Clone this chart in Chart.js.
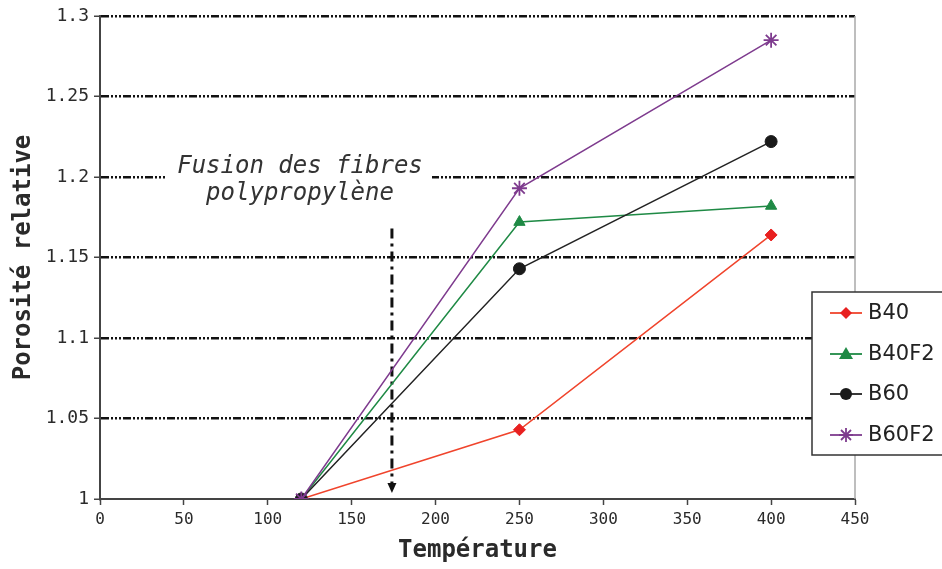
<!DOCTYPE html>
<html>
<head>
<meta charset="utf-8">
<script src="https://cdn.jsdelivr.net/npm/chart.js@4/dist/chart.umd.min.js"></script>
<style>
  html, body { margin:0; padding:0; background:#fff; }
  #wrap { width:942px; height:569px; position:relative; }
</style>
</head>
<body>
<div id="wrap"><canvas id="chart"></canvas></div>
<script>
// data
const temps = [120, 250, 400];
const b40   = [1, 1.043, 1.164];
const b40f2 = [1, 1.172, 1.182];
const b60   = [1, 1.143, 1.222];
const b60f2 = [1, 1.193, 1.285];
const yTicks = [1, 1.05, 1.1, 1.15, 1.2, 1.25, 1.3];
const xTicks = [0, 50, 100, 150, 200, 250, 300, 350, 400, 450];

const seriesNames  = ['B40', 'B40F2', 'B60', 'B60F2'];
const seriesColors = ['#f0442c', '#1f8a45', '#222222', '#7e3b8e'];
const markerColors = ['#e82020', '#1f8a45', '#1a1a1a', '#7e3b8e'];
const seriesStyles = ['rectRot', 'triangle', 'circle', 'star'];
const seriesValues = [b40, b40f2, b60, b60f2];

// annotation : "Fusion des fibres polypropylène" arrow
const annotLines = ['Fusion des fibres', 'polypropylène'];
const arrowX = 174, arrowTop = 1.168, arrowBottom = 1.0;

const datasets = seriesNames.map((name, i) => ({
  label: name,
  data: temps.map((t, k) => ({ x: t, y: seriesValues[i][k] })),
  borderColor: seriesColors[i],
  backgroundColor: markerColors[i],
  pointBorderColor: markerColors[i],
  pointStyle: seriesStyles[i],
  pointRadius: seriesStyles[i] === 'star' ? 7.5 : (seriesStyles[i] === 'triangle' ? 6.5 : 6),
  pointBorderWidth: seriesStyles[i] === 'star' ? 1.8 : 1,
  borderWidth: 1.5,
  tension: 0,
  order: 4 - i
}));

const frame = {
  id: 'frame',
  beforeDatasetsDraw(chart) {
    const { ctx, chartArea: a, scales: { x, y } } = chart;
    ctx.save();
    // right border
    ctx.strokeStyle = '#a8a8a8'; ctx.lineWidth = 1.5;
    ctx.beginPath(); ctx.moveTo(a.right, a.top); ctx.lineTo(a.right, a.bottom); ctx.stroke();
    // annotation text with white background
    ctx.fillStyle = '#fff';
    ctx.fillRect(166, 156, 266, 50);
    ctx.fillStyle = '#333';
    ctx.font = 'italic 24px "DejaVu Sans Mono"';
    ctx.textAlign = 'center'; ctx.textBaseline = 'middle';
    ctx.fillText(annotLines[0], 300, 167);
    ctx.fillText(annotLines[1], 300, 194);
    // dash-dot arrow
    const ax = x.getPixelForValue(arrowX);
    const y1 = y.getPixelForValue(arrowTop), y2 = y.getPixelForValue(arrowBottom) - 6;
    ctx.strokeStyle = '#111'; ctx.lineWidth = 3;
    ctx.setLineDash([10, 5, 3, 5]);
    ctx.beginPath(); ctx.moveTo(ax, y1); ctx.lineTo(ax, y2 - 6); ctx.stroke();
    ctx.setLineDash([]);
    ctx.fillStyle = '#111';
    ctx.beginPath(); ctx.moveTo(ax - 4.5, y2 - 10); ctx.lineTo(ax + 4.5, y2 - 10); ctx.lineTo(ax, y2); ctx.closePath(); ctx.fill();
    ctx.restore();
  },
  afterDraw(chart) {
    const { ctx } = chart;
    ctx.save();
    ctx.fillStyle = '#fff';
    ctx.fillRect(812, 292, 140, 163);
    ctx.strokeStyle = '#333'; ctx.lineWidth = 1.5;
    ctx.strokeRect(812, 292, 140, 163);
    const rows = [313, 354, 394, 435];
    ctx.font = '21px "DejaVu Sans"';
    ctx.textBaseline = 'middle'; ctx.textAlign = 'left';
    seriesNames.forEach((n, i) => {
      const yy = rows[i];
      ctx.strokeStyle = seriesColors[i]; ctx.lineWidth = 1.8;
      ctx.beginPath(); ctx.moveTo(830, yy); ctx.lineTo(862, yy); ctx.stroke();
      drawMarker(ctx, seriesStyles[i], 846, yy, markerColors[i]);
      ctx.fillStyle = '#222';
      ctx.fillText(n, 868, yy + 1);
    });
    ctx.restore();
  }
};

function drawMarker(ctx, style, cx, cy, col) {
  ctx.fillStyle = col; ctx.strokeStyle = col;
  ctx.beginPath();
  if (style === 'rectRot') {
    ctx.moveTo(cx, cy - 6); ctx.lineTo(cx + 6, cy); ctx.lineTo(cx, cy + 6); ctx.lineTo(cx - 6, cy); ctx.closePath(); ctx.fill();
  } else if (style === 'triangle') {
    ctx.moveTo(cx, cy - 7); ctx.lineTo(cx + 7, cy + 5); ctx.lineTo(cx - 7, cy + 5); ctx.closePath(); ctx.fill();
  } else if (style === 'circle') {
    ctx.arc(cx, cy, 6, 0, Math.PI * 2); ctx.fill();
  } else {
    ctx.lineWidth = 1.8;
    ctx.moveTo(cx - 7, cy); ctx.lineTo(cx + 7, cy);
    ctx.moveTo(cx, cy - 7); ctx.lineTo(cx, cy + 7);
    ctx.moveTo(cx - 5, cy - 5); ctx.lineTo(cx + 5, cy + 5);
    ctx.moveTo(cx - 5, cy + 5); ctx.lineTo(cx + 5, cy - 5);
    ctx.stroke();
  }
}

new Chart(document.getElementById('chart'), {
  type: 'line',
  data: { datasets },
  plugins: [frame],
  options: {
    responsive: true, maintainAspectRatio: false, animation: false,
    layout: { padding: { left: 0, top: 16, right: 87, bottom: 0 } },
    plugins: { legend: { display: false }, tooltip: { enabled: false } },
    scales: {
      x: {
        type: 'linear', min: 0, max: 450,
        afterFit: s => { s.height = 70; },
        afterBuildTicks: s => { s.ticks = xTicks.map(v => ({ value: v })); },
        grid: { drawOnChartArea: false, drawTicks: true, tickLength: 6, tickColor: '#444', tickWidth: 1.5 },
        border: { color: '#444', width: 2 },
        ticks: { color: '#2a2a2a', padding: 5, font: { family: '"DejaVu Sans Mono"', size: 16 } },
        title: { display: true, text: 'Température', color: '#2a2a2a', padding: { top: 3 },
                 font: { family: '"DejaVu Sans Mono"', size: 24, weight: 'bold' } }
      },
      y: {
        min: 1, max: 1.3,
        afterFit: s => { s.width = 100; },
        afterBuildTicks: s => { s.ticks = yTicks.map(v => ({ value: v })); },
        grid: {
          color: c => c.tick && c.tick.value === 1 ? 'rgba(0,0,0,0)' : '#111',
          lineWidth: 2.5, drawTicks: true, tickLength: 6, tickColor: '#444', tickWidth: 1.5
        },
        border: { color: '#444', width: 2, dash: [8, 2, 2, 2, 2, 2, 2, 2] },
        ticks: { color: '#2a2a2a', padding: 5, font: { family: '"DejaVu Sans Mono"', size: 18 },
                 callback: v => String(Math.round(v * 100) / 100) },
        title: { display: true, text: 'Porosité relative', color: '#2a2a2a', padding: { top: 9 },
                 font: { family: '"DejaVu Sans Mono"', size: 24, weight: 'bold' } }
      }
    }
  }
});
</script>
</body>
</html>
